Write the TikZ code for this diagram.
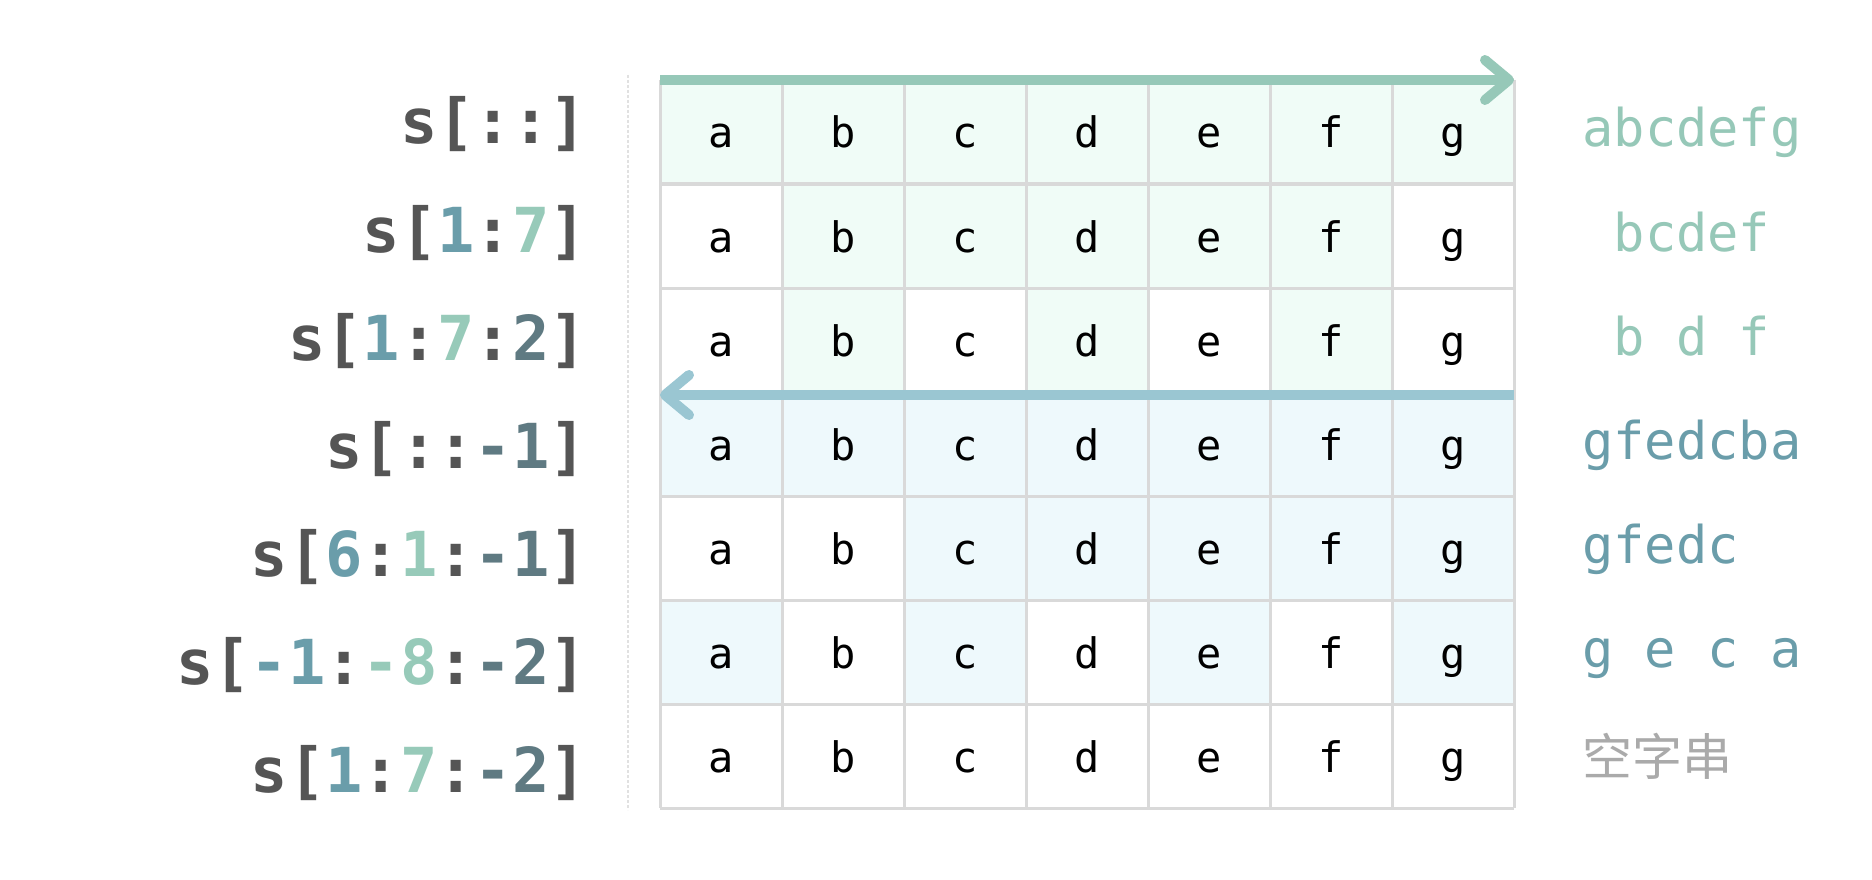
\documentclass[tikz,border=0pt]{standalone}
\usepackage{fontspec}
\setmonofont{DejaVu Sans Mono}
\newfontfamily\cjk{Noto Sans CJK SC}
\usetikzlibrary{arrows.meta}
\usetikzlibrary{positioning}

\definecolor{labgray}{HTML}{555555}
\definecolor{idxstart}{HTML}{6A9DAA}
\definecolor{idxstop}{HTML}{97CAB9}
\definecolor{idxstep}{HTML}{5F7A82}
\definecolor{fwdgreen}{HTML}{96C8B8}
\definecolor{revblue}{HTML}{9AC6D2}
\definecolor{fwdtint}{HTML}{F0FCF7}
\definecolor{revtint}{HTML}{EEF9FC}
\definecolor{gridgray}{HTML}{D9D9D9}
\definecolor{emptygray}{HTML}{AAAAAA}

\newcommand{\ixa}[1]{\textcolor{idxstart}{#1}}
\newcommand{\ixb}[1]{\textcolor{idxstop}{#1}}
\newcommand{\ixc}[1]{\textcolor{idxstep}{#1}}

\tikzset{
  lab/.style={font=\ttfamily\bfseries\fontsize{62}{74}\selectfont,text=labgray,anchor=base east,inner sep=0},
  cell/.style={font=\ttfamily\fontsize{42}{50}\selectfont,anchor=base,inner sep=0},
  res/.style={font=\ttfamily\fontsize{52}{62}\selectfont,anchor=base,inner sep=0},
  gridline/.style={draw=gridgray,line width=3pt},
  divider/.style={draw=gridgray!80,line width=1.5pt,dash pattern=on 3pt off 2pt},
  fwdarrow/.style={draw=fwdgreen,line width=10pt,-{Straight Barb[length=24pt,width=40pt,round]}},
  revarrow/.style={draw=revblue,line width=10pt,-{Straight Barb[length=24pt,width=40pt,round]}}
}

\begin{document}
\begin{tikzpicture}[x=1pt,y=-1pt]
\useasboundingbox[fill=white] (0,0) rectangle (1872,880);

% shaded cells
\draw[fill=fwdtint,draw=none] (660,80) rectangle (1514,184);
\draw[fill=fwdtint,draw=none] (782,184) rectangle (1392,288);
\draw[fill=fwdtint,draw=none] (782,288) rectangle (904,392);
\draw[fill=fwdtint,draw=none] (1026,288) rectangle (1148,392);
\draw[fill=fwdtint,draw=none] (1270,288) rectangle (1392,392);
\draw[fill=revtint,draw=none] (660,392) rectangle (1514,496);
\draw[fill=revtint,draw=none] (904,496) rectangle (1514,600);
\draw[fill=revtint,draw=none] (660,600) rectangle (782,704);
\draw[fill=revtint,draw=none] (904,600) rectangle (1026,704);
\draw[fill=revtint,draw=none] (1148,600) rectangle (1270,704);
\draw[fill=revtint,draw=none] (1392,600) rectangle (1514,704);

% grid
\foreach \i in {0,...,7} {
  \draw[gridline] (660,80+104*\i) -- (1514,80+104*\i);
  \draw[gridline] (660+122*\i,80) -- (660+122*\i,808);
}

% letters
\foreach \r in {1,...,7}
  \foreach \c [count=\k from 0] in {a,b,c,d,e,f,g}
    \node[cell] (\c\r) at ({721+122*\k},{148+104*(\r-1)}) {\c};

% divider
\coordinate (divT) at (628,75);
\coordinate (divB) at (628,810);
\draw[divider] (divT) -- (divB);

% arrows
\coordinate (fwdL) at (660,80);
\coordinate (fwdR) at (1514,80);
\coordinate (revR) at (1514,395);
\coordinate (revL) at (660,395);
\draw[fwdarrow] (fwdL) -- (fwdR);
\draw[revarrow] (revR) -- (revL);

% slice labels
\node[lab] (l1) at (587,144) {s[::]};
\node[lab] (l2) at (587,252) {s[\ixa{1}:\ixb{7}]};
\node[lab] (l3) at (587,360) {s[\ixa{1}:\ixb{7}:\ixc{2}]};
\node[lab] (l4) at (587,468) {s[::\ixc{-1}]};
\node[lab] (l5) at (587,576) {s[\ixa{6}:\ixb{1}:\ixc{-1}]};
\node[lab] (l6) at (587,684) {s[\ixa{-1}:\ixb{-8}:\ixc{-2}]};
\node[lab] (l7) at (587,792) {s[\ixa{1}:\ixb{7}:\ixc{-2}]};

% results
\node[res,text=fwdgreen] (r1) at (1692,147) {abcdefg};
\node[res,text=fwdgreen] (r2) at (1692,251) {bcdef};
\node[res,text=fwdgreen] (r3) at (1692,355) {b d f};
\node[res,text=idxstart,anchor=base west] (r4) at (1582,459) {gfedcba};
\node[res,text=idxstart,anchor=base west] (r5) at (1582,563) {gfedc};
\node[res,text=idxstart,anchor=base west] (r6) at (1582,667) {g e c a};
\node[res,text=emptygray,anchor=base west,font=\cjk\fontsize{50}{60}\selectfont] (r7) at (1582,775) {空字串};

\end{tikzpicture}
\end{document}
